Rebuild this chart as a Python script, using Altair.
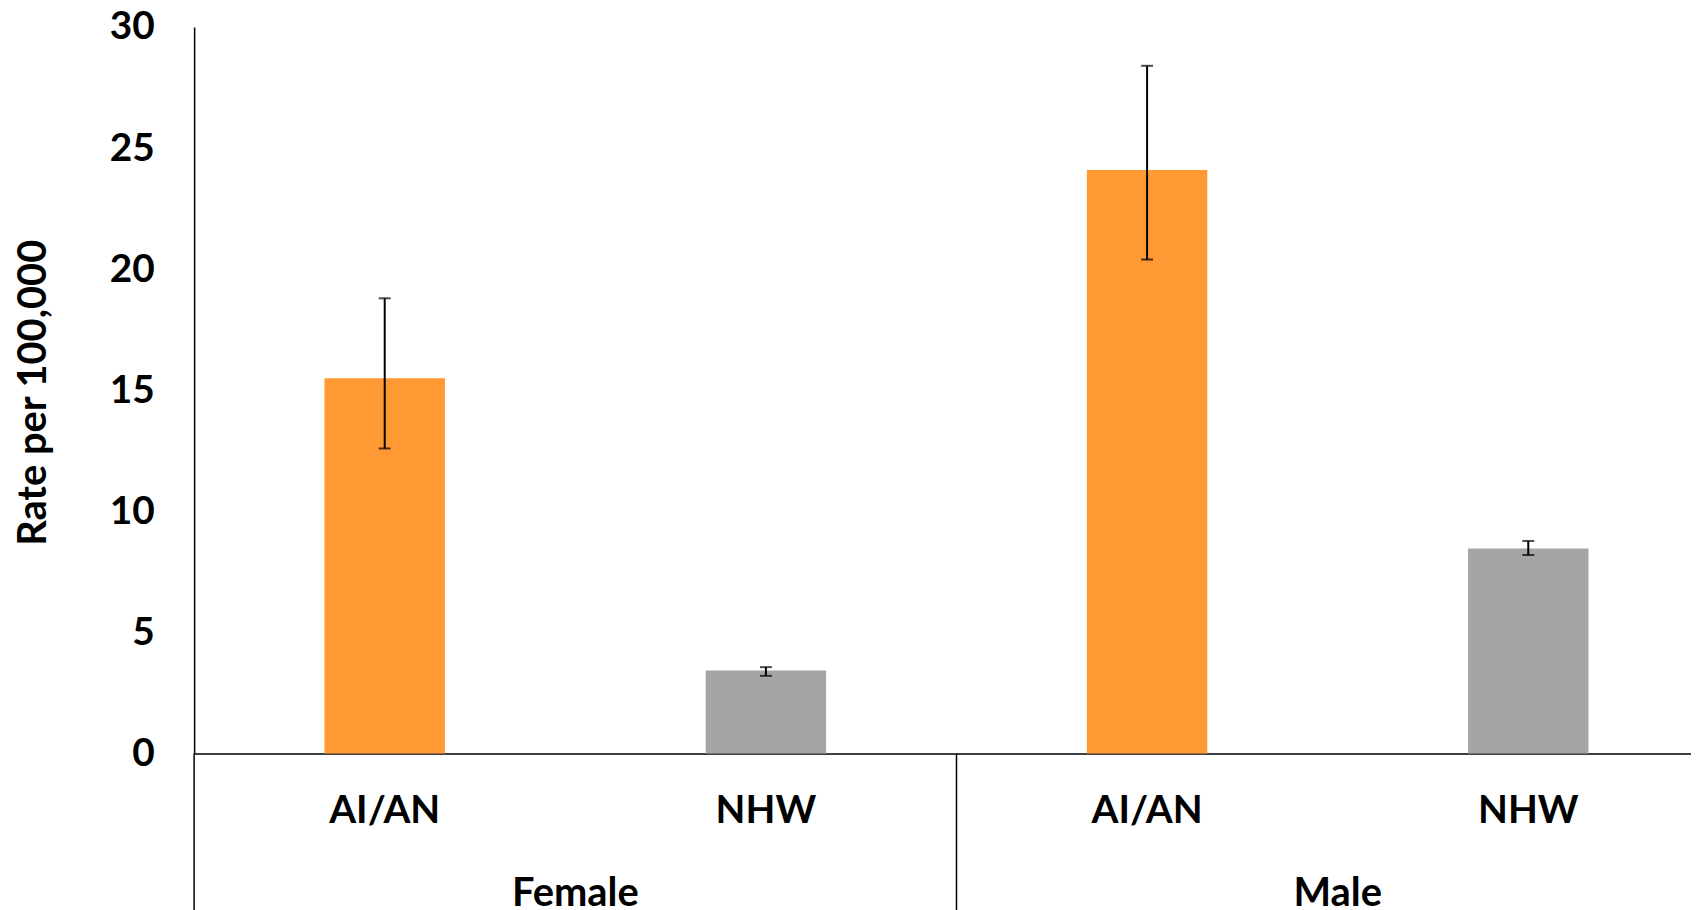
import altair as alt
import pandas as pd

groups = ["Female", "Female", "Male", "Male"]
races = ["AI/AN", "NHW", "AI/AN", "NHW"]
rates = [15.5, 3.43, 24.1, 8.47]
lower = [12.6, 3.21, 20.4, 8.2]
upper = [18.8, 3.57, 28.4, 8.78]
group_names = ["Female", "Male"]
y_ticks = [0, 5, 10, 15, 20, 25, 30]

ORANGE = "#FF9933"
GRAY = "#A5A5A5"
FONT = "Lato"
FS = 39

df = pd.DataFrame({
    "group": groups,
    "race": races,
    "key": [g + "|" + r for g, r in zip(groups, races)],
    "rate": rates,
    "lo": lower,
    "hi": upper,
})
gdf = pd.DataFrame({"group": group_names})

RANGE = [0, 1532]
xscale = alt.Scale(range=RANGE, paddingInner=0, paddingOuter=0)

x_enc = alt.X(
    "key:N",
    scale=xscale,
    sort=list(df["key"]),
    axis=alt.Axis(
        title=None,
        labelExpr="split(datum.label, '|')[1]",
        labelFont=FONT,
        labelFontWeight="bold",
        labelFontSize=FS,
        labelColor="black",
        labelAngle=0,
        labelBaseline="alphabetic",
        labelPadding=69,
        ticks=False,
        tickSize=0,
        domainColor="black",
        domainWidth=1.5,
        grid=False,
    ),
)

y_enc = alt.Y(
    "rate:Q",
    scale=alt.Scale(domain=[0, 30], nice=False),
    axis=alt.Axis(
        values=y_ticks,
        title="Rate per 100,000",
        titleFont=FONT,
        titleFontWeight="bold",
        titleFontSize=FS + 1,
        titleColor="black",
        titleAngle=-90,
        titleAlign="center",
        titleBaseline="bottom",
        titleX=-141,
        titleY=367,
        labelFont=FONT,
        labelFontWeight="bold",
        labelFontSize=FS,
        labelColor="black",
        labelPadding=40,
        ticks=False,
        tickSize=0,
        domainColor="black",
        domainWidth=1.5,
        grid=False,
    ),
)

bars = alt.Chart(df).mark_bar(width=alt.RelativeBandSize(0.316)).encode(
    x=x_enc,
    y=y_enc,
    color=alt.Color("race:N", scale=alt.Scale(domain=["AI/AN", "NHW"], range=[ORANGE, GRAY]), legend=None),
)

err = alt.Chart(df).mark_rule(color="black", strokeWidth=2).encode(
    x=alt.X("key:N", sort=list(df["key"])),
    y="lo:Q",
    y2="hi:Q",
)
cap_lo = alt.Chart(df).mark_tick(color="black", thickness=2, size=12, orient="horizontal").encode(
    x=alt.X("key:N", sort=list(df["key"])),
    y="lo:Q",
)
cap_hi = alt.Chart(df).mark_tick(color="black", thickness=2, size=12, orient="horizontal").encode(
    x=alt.X("key:N", sort=list(df["key"])),
    y="hi:Q",
)

main = alt.layer(bars, err, cap_lo, cap_hi)

gscale = alt.Scale(range=RANGE, paddingInner=0, paddingOuter=0)
dividers = alt.Chart(gdf).mark_rule(color="black", strokeWidth=1.5).encode(
    x=alt.X("group:N", scale=gscale, bandPosition=0, axis=None),
    y=alt.value(730),
    y2=alt.value(890),
)
glabels = alt.Chart(gdf).mark_text(
    font=FONT, fontWeight="bold", fontSize=FS + 1, color="black", baseline="alphabetic", align="center"
).encode(
    x=alt.X("group:N", scale=gscale, axis=None),
    y=alt.value(883),
    text="group:N",
)
grp = alt.layer(dividers, glabels)

chart = alt.layer(main, grp).resolve_scale(x="independent").properties(
    width=1504,
    height=730,
    background="white",
    autosize=alt.AutoSizeParams(type="none"),
    padding={"left": 187, "top": 17, "right": 0, "bottom": 155},
).configure_view(strokeWidth=0, stroke="transparent").configure_axis(
    grid=False
)

chart.save("out.html", embed_options={"renderer": "svg", "actions": False})
